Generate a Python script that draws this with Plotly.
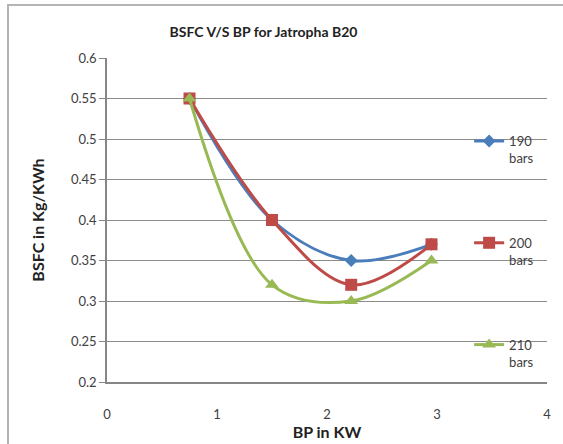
import plotly.graph_objects as go

# Brake power (kW) and brake specific fuel consumption (kg/kWh)
bp_kw = [0.75, 1.5, 2.22, 2.95]
bsfc_190 = [0.55, 0.40, 0.35, 0.37]
bsfc_200 = [0.55, 0.40, 0.32, 0.37]
bsfc_210 = [0.55, 0.32, 0.30, 0.35]

series_names = ["190<br>bars", "200<br>bars", "210<br>bars"]
x_ticks = [0, 1, 2, 3, 4]
y_ticks = [0.2, 0.25, 0.3, 0.35, 0.4, 0.45, 0.5, 0.55, 0.6]

colors = ["#4a7ebb", "#be4b48", "#98b954"]
symbols = ["diamond", "square", "triangle-up"]
sizes = [10, 12, 12]
series = [bsfc_190, bsfc_200, bsfc_210]

FONT = "Lato, 'Open Sans', sans-serif"

fig = go.Figure()
for i, (name, ys) in enumerate(zip(series_names, series)):
    fig.add_trace(go.Scatter(
        x=bp_kw, y=ys, name=name, mode="lines+markers",
        line=dict(color=colors[i], width=3, shape="spline", smoothing=1.0),
        marker=dict(symbol=symbols[i], size=sizes[i], color=colors[i]),
        legendgroup=str(i),
    ))

fig.update_layout(
    width=563, height=444,
    margin=dict(l=107, r=16, t=58, b=62),
    paper_bgcolor="white", plot_bgcolor="white",
    font=dict(family=FONT, color="#404040", size=13),
    title=dict(text="<b>BSFC V/S BP for Jatropha B20</b>", x=0.468, xanchor="center",
               y=0.928, yanchor="middle", font=dict(size=14, color="#222222")),
    showlegend=True,
    legend=dict(x=0.823, y=0.79, xanchor="left", yanchor="top",
                bgcolor="rgba(0,0,0,0)", tracegroupgap=65, valign="top",
                font=dict(size=13, color="#404040"), itemwidth=30),
    xaxis=dict(range=[0, 4], tickvals=x_ticks, showgrid=False, zeroline=False,
               showline=True, linecolor="#868686", linewidth=1.5, automargin=False,
               ticks="outside", ticklen=20, tickcolor="rgba(0,0,0,0)",
               tickfont=dict(size=13, color="#404040"),
               title=dict(text="<b>BP in KW</b>", font=dict(size=16, color="#222222"), standoff=2)),
    yaxis=dict(range=[0.2, 0.6], tickvals=y_ticks, ticktext=[f"{v:g}" for v in y_ticks],
               showgrid=True, gridcolor="#8c8c8c", gridwidth=1.3, zeroline=False,
               showline=True, linecolor="#868686", linewidth=1.5, automargin=False,
               ticks="outside", ticklen=6, tickcolor="#868686",
               tickfont=dict(size=13, color="#404040"),
               title=dict(text="<b>BSFC in Kg/KWh</b>", font=dict(size=16, color="#222222"), standoff=22)),
)

# Chart frame
fig.add_shape(type="rect", xref="paper", yref="paper",
              x0=-0.225, x1=1.06, y0=-0.25, y1=1.1636,
              line=dict(color="#b4b4b4", width=2), layer="below")

fig.write_html("out.html")
